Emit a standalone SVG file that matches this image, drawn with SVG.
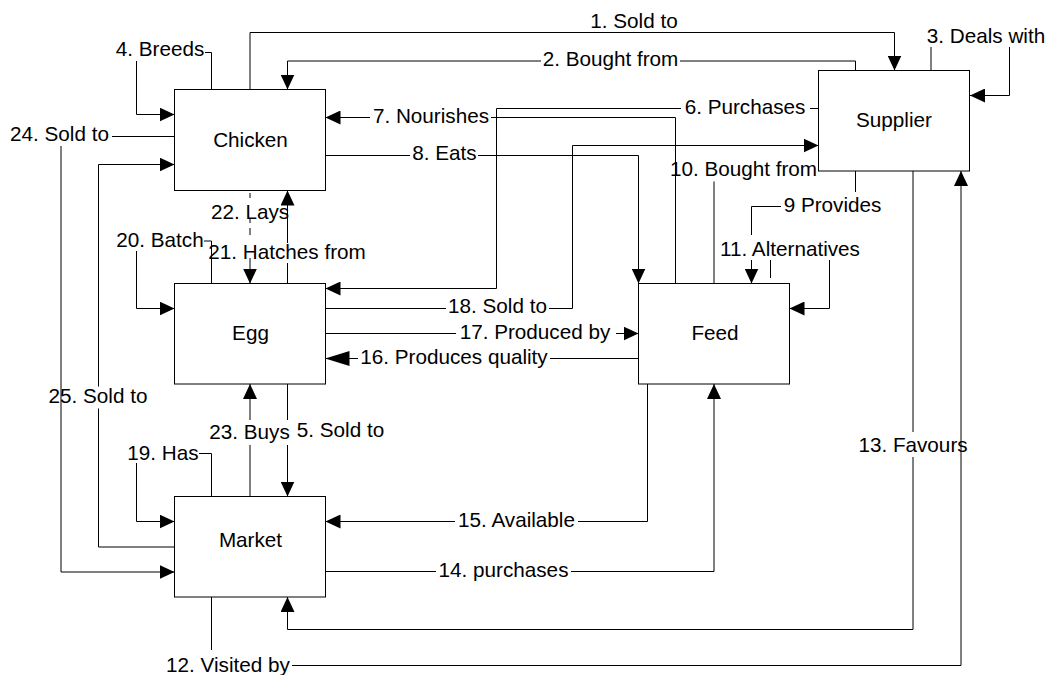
<svg xmlns="http://www.w3.org/2000/svg" width="1050" height="675" viewBox="0 0 1050 675">
<style>
.box{fill:#fff;stroke:#000;stroke-width:1}
.e{fill:none;stroke:#000;stroke-width:1}
.a{marker-end:url(#arr)}
.ab{marker-end:url(#arrBig)}
text{font-family:"Liberation Sans",Arial,sans-serif;font-size:20.7px;fill:#000;text-anchor:middle}
</style>
<defs>
<marker id="arr" viewBox="0 0 15 14" refX="15" refY="7" markerWidth="15" markerHeight="14" markerUnits="userSpaceOnUse" orient="auto"><path d="M0,0 L15,7 L0,14 z" fill="#000"/></marker>
<marker id="arrBig" viewBox="0 0 24 15" refX="24" refY="7.5" markerWidth="24" markerHeight="15" markerUnits="userSpaceOnUse" orient="auto"><path d="M0,0 L24,7.5 L0,15 z" fill="#000"/></marker>
</defs>
<rect width="1050" height="675" fill="#fff"/>
<g id="connectors">
<g id="e1"><path class="e a" d="M250,89 V32.5 H894.5 V70.5"/><text x="634" y="28">1. Sold to</text></g>
<g id="e2"><path class="e a" d="M855.5,70.5 V61 H680 M541,61 H287.5 V89.5"/><text x="610.5" y="66">2. Bought from</text></g>
<g id="e3"><path class="e a" d="M931,70.5 V47 M1009.5,47 V95.5 H970"/><text x="986" y="43">3. Deals with</text></g>
<g id="e4"><path class="e a" d="M211.5,89.5 V52.5 H205 M136.5,61 V114.5 H174.5"/><text x="160" y="56">4. Breeds</text></g>
<g id="e24"><path class="e a" d="M174.5,136.5 H112 M61,146 V572 H174.5"/><text x="59.5" y="141">24. Sold to</text></g>
<g id="e25"><path class="e a" d="M174.5,547 H98.5 V408.5 M98.5,386.5 V164.5 H174.5"/><text x="98" y="403">25. Sold to</text></g>
<g id="e6"><path class="e a" d="M818.5,108.5 H810 M681,108.5 H496.5 V288.5 H325.5"/><text x="745" y="113.5">6. Purchases</text></g>
<g id="e7"><path class="e a" d="M675.5,283.5 V117.5 H491 M370,117.5 H325.5"/><text x="431" y="122.7">7. Nourishes</text></g>
<g id="e8"><path class="e a" d="M325.5,155.5 H410 M478,155.5 H638.5 V283.5"/><text x="444.5" y="160">8. Eats</text></g>
<g id="e18"><path class="e a" d="M325.5,308.5 H446 M549,308.5 H572.5 V145.5 H818.5"/><text x="497.5" y="313">18. Sold to</text></g>
<g id="e17"><path class="e a" d="M325.5,333.5 H456 M616,333.5 H638.5"/><text x="535" y="339">17. Produced by</text></g>
<g id="e16"><path class="e ab" d="M638.5,358.5 H550 M358,358.5 H325.5"/><text x="454" y="364">16. Produces quality</text></g>
<g id="e10"><path class="e" d="M714,283.5 V181.5"/><text x="743.5" y="175.7">10. Bought from</text></g>
<g id="e9"><path class="e a" d="M855.5,171 V192 M781,206.5 H751.5 V235 M751.5,260 V283.5"/><text x="832.5" y="211.7">9 Provides</text></g>
<g id="e11"><path class="e a" d="M770.5,278 V260 M829.5,260 V308.5 H789.5"/><text x="790" y="255.7">11. Alternatives</text></g>
<g id="e13"><path class="e a" d="M913,171 V432 M913,457 V629.5 H287.5 V597"/><text x="913" y="452">13. Favours</text></g>
<g id="e12"><path class="e a" d="M211.5,597 V650 M292,665.5 H961 V171"/><text x="228" y="671.7">12. Visited by</text></g>
<g id="e14"><path class="e a" d="M325.5,571.5 H436 M571,571.5 H714 V384"/><text x="503.5" y="577">14. purchases</text></g>
<g id="e15"><path class="e a" d="M647.5,384 V521.5 H578 M455,521.5 H325.5"/><text x="516.5" y="527">15. Available</text></g>
<g id="e5"><path class="e a" d="M287.5,384 V420 M287.5,445 V496.5"/><text x="340.5" y="437">5. Sold to</text></g>
<g id="e23"><path class="e a" d="M250,496.5 V445 M250,420 V384"/><text x="249.5" y="439">23. Buys</text></g>
<g id="e19"><path class="e a" d="M211.5,496.5 V453.5 H199 M136.5,463 V521.5 H174.5"/><text x="163" y="460">19. Has</text></g>
<g id="e20"><path class="e a" d="M211.5,283.5 V241 H204 M136.5,251 V308.5 H174.5"/><text x="160" y="246.7">20. Batch</text></g>
<g id="e22"><path class="e a" d="M250,193 V198 M250,218 V223 M250,228 V235 M250,258 V283.5"/><text x="250" y="219">22. Lays</text></g>
<g id="e21"><path class="e a" d="M287.5,283.5 V263 M287.5,243 V190.5"/><text x="287" y="259">21. Hatches from</text></g>
</g>
<g id="chicken"><rect class="box" x="174.5" y="89.5" width="151" height="101"/><text x="250.5" y="146.7">Chicken</text></g>
<g id="egg"><rect class="box" x="174.5" y="283.5" width="151" height="100.5"/><text x="250.5" y="340">Egg</text></g>
<g id="market"><rect class="box" x="174.5" y="496.5" width="151" height="100.5"/><text x="250.5" y="547">Market</text></g>
<g id="feed"><rect class="box" x="638.5" y="283.5" width="151" height="100.5"/><text x="715" y="340">Feed</text></g>
<g id="supplier"><rect class="box" x="818.5" y="70.5" width="151" height="100.5"/><text x="894" y="126.7">Supplier</text></g>
</svg>
